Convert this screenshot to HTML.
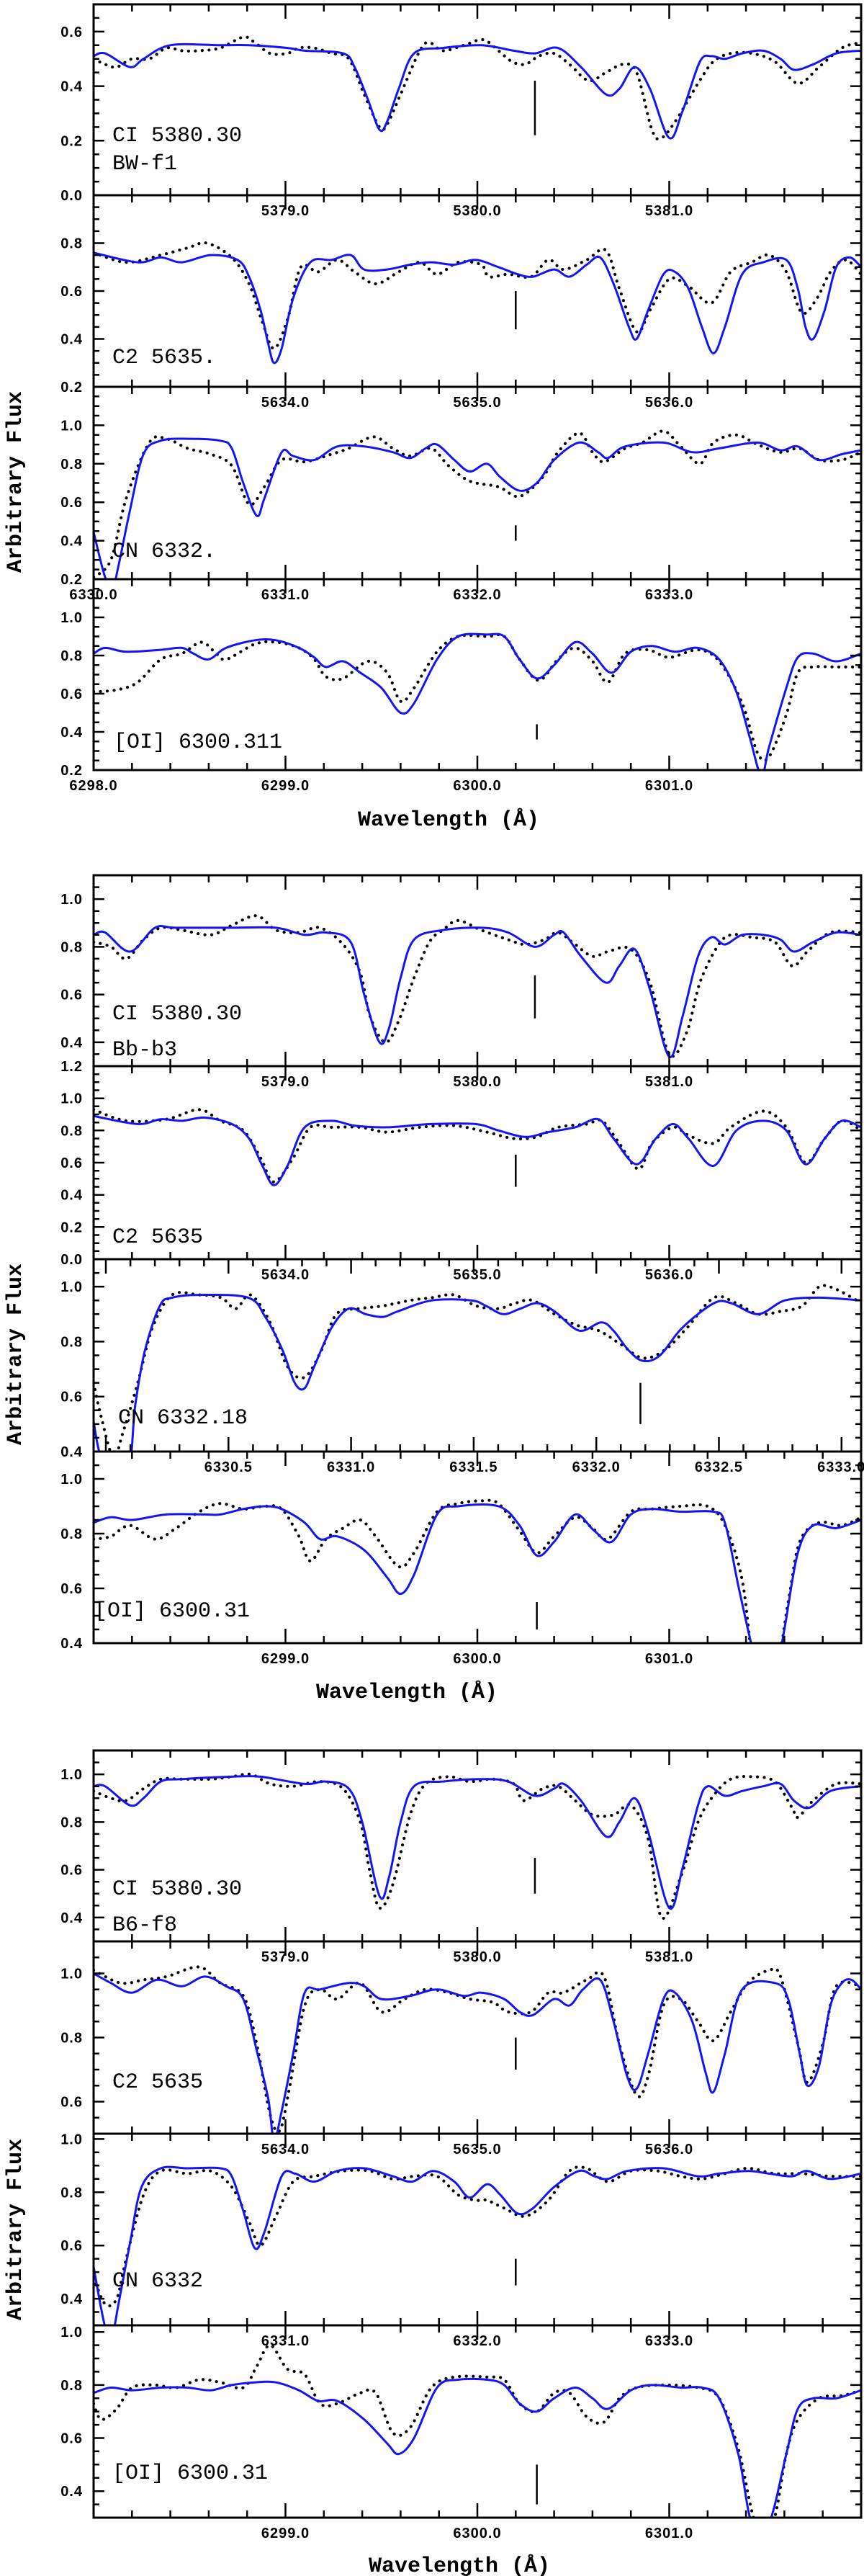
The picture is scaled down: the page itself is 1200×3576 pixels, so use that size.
<!DOCTYPE html>
<html><head><meta charset="utf-8">
<style>
html,body{margin:0;padding:0;background:#fff;}
svg{display:block;}
.tl{font-family:"Liberation Sans",sans-serif;font-weight:bold;font-size:20px;letter-spacing:1px;fill:#000;}
.pl{font-family:"Liberation Mono",monospace;font-size:30px;fill:#000;}
.ax{font-family:"Liberation Mono",monospace;font-weight:bold;font-size:30px;fill:#000;}
</style></head>
<body>
<svg id="fig" width="1200" height="3576" viewBox="0 0 1200 3576" xmlns="http://www.w3.org/2000/svg">
<text class="ax" x="623" y="1146" text-anchor="middle">Wavelength (Å)</text>
<text class="ax" x="565" y="2357" text-anchor="middle">Wavelength (Å)</text>
<text class="ax" x="638" y="3570" text-anchor="middle">Wavelength (Å)</text>
<text class="ax" transform="translate(29,669) rotate(-90)" text-anchor="middle">Arbitrary Flux</text>
<text class="ax" transform="translate(29,1880) rotate(-90)" text-anchor="middle">Arbitrary Flux</text>
<text class="ax" transform="translate(29,3095) rotate(-90)" text-anchor="middle">Arbitrary Flux</text>
</svg>
<script>
// ---- data: wavelength offsets (Å from panel base) and flux ----
const g1p1ModelDWl=[0,.06,.19,.26,.40,.66,.81,1.01,1.10,1.30,1.36,1.43,1.49,1.53,1.59,1.67,1.82,2.02,2.19,2.30,2.42,2.54,2.67,2.74,2.82,2.90,3.00,3.07,3.16,3.22,3.29,3.38,3.49,3.58,3.65,3.75,3.87,4.00];
const g1p1ModelFlux=[.51,.52,.47,.50,.55,.55,.55,.54,.53,.52,.47,.35,.24,.27,.39,.52,.54,.55,.53,.52,.54,.47,.37,.39,.47,.39,.21,.31,.49,.51,.50,.52,.53,.50,.46,.48,.52,.53];
const g1p1ObsDWl=[0,.06,.12,.20,.29,.38,.46,.55,.66,.78,.84,.92,1.01,1.07,1.15,1.24,1.33,1.41,1.49,1.53,1.60,1.70,1.75,1.82,1.93,2.03,2.11,2.18,2.25,2.32,2.40,2.48,2.58,2.67,2.76,2.83,2.91,2.96,3.04,3.15,3.23,3.32,3.43,3.55,3.67,3.78,3.90,4.00];
const g1p1ObsFlux=[.50,.48,.47,.50,.50,.54,.53,.53,.54,.58,.56,.52,.52,.54,.54,.52,.50,.37,.25,.26,.37,.53,.56,.53,.55,.57,.53,.49,.48,.51,.52,.48,.42,.45,.48,.45,.24,.21,.28,.41,.49,.52,.52,.49,.41,.47,.54,.56];

const g1p2ModelDWl=[0,.23,.35,.46,.61,.75,.81,.87,.91,.94,.98,1.04,1.13,1.24,1.34,1.41,1.53,1.65,1.76,1.88,1.99,2.11,2.21,2.29,2.40,2.48,2.57,2.64,2.71,2.79,2.83,2.89,2.97,3.03,3.10,3.17,3.23,3.29,3.38,3.49,3.61,3.67,3.71,3.75,3.81,3.87,3.94,4.00];
const g1p2ModelFlux=[.76,.72,.74,.72,.75,.73,.66,.52,.38,.30,.36,.57,.72,.73,.75,.69,.69,.71,.72,.71,.73,.70,.67,.66,.69,.66,.71,.74,.63,.45,.40,.52,.67,.68,.61,.45,.34,.45,.67,.72,.73,.61,.45,.40,.52,.70,.74,.70];
const g1p2ObsDWl=[0,.17,.35,.49,.59,.72,.81,.88,.94,1.01,1.08,1.17,1.27,1.36,1.47,1.59,1.70,1.79,1.90,2.02,2.06,2.16,2.28,2.37,2.45,2.57,2.67,2.74,2.83,2.90,3.00,3.10,3.22,3.32,3.43,3.52,3.61,3.69,3.77,3.84,3.92,4.00];
const g1p2ObsFlux=[.76,.72,.75,.78,.80,.74,.63,.47,.36,.48,.70,.68,.73,.68,.63,.68,.72,.67,.72,.71,.66,.67,.66,.73,.69,.73,.77,.61,.43,.52,.65,.62,.55,.68,.72,.75,.68,.51,.57,.68,.73,.67];

const g1p3ModelDWl=[0,.06,.10,.13,.19,.26,.35,.49,.66,.72,.78,.85,.89,.98,1.04,1.15,1.27,1.41,1.56,1.65,1.73,1.79,1.88,1.96,2.05,2.12,2.22,2.31,2.40,2.53,2.63,2.68,2.77,2.97,3.12,3.26,3.46,3.58,3.67,3.78,3.90,4.00];
const g1p3ModelFlux=[.445,.21,.16,.27,.56,.85,.92,.93,.92,.88,.70,.53,.62,.86,.84,.82,.89,.89,.86,.83,.88,.90,.82,.76,.80,.73,.66,.70,.82,.91,.86,.83,.89,.91,.86,.88,.91,.87,.89,.82,.85,.87];
const g1p3ObsDWl=[0,.09,.17,.29,.38,.49,.61,.72,.81,.89,.98,1.10,1.24,1.33,1.46,1.56,1.65,1.76,1.85,1.96,2.11,2.22,2.34,2.42,2.53,2.60,2.66,2.77,2.86,2.97,3.06,3.16,3.23,3.35,3.46,3.58,3.68,3.78,3.90,4.00];
const g1p3ObsFlux=[.21,.30,.62,.91,.93,.88,.85,.79,.59,.68,.82,.81,.85,.88,.94,.88,.84,.88,.79,.71,.68,.63,.73,.86,.96,.86,.81,.88,.91,.97,.89,.80,.91,.95,.90,.86,.88,.82,.82,.86];

const g1p4ModelDWl=[0,.06,.17,.35,.46,.52,.60,.69,.84,.95,1.07,1.15,1.21,1.30,1.39,1.50,1.60,1.67,1.79,1.90,2.05,2.14,2.22,2.31,2.40,2.51,2.60,2.70,2.80,2.91,3.03,3.15,3.26,3.35,3.42,3.48,3.52,3.61,3.67,3.75,3.87,4.00];
const g1p4ModelFlux=[.81,.84,.82,.83,.84,.81,.78,.84,.88,.88,.84,.79,.74,.77,.71,.63,.50,.55,.78,.90,.91,.90,.78,.68,.75,.87,.81,.71,.82,.85,.82,.84,.78,.61,.37,.17,.32,.63,.79,.81,.77,.81];
const g1p4ObsDWl=[0,.12,.23,.35,.46,.56,.63,.69,.84,.95,1.07,1.15,1.21,1.30,1.43,1.53,1.60,1.67,1.79,1.90,2.05,2.14,2.22,2.32,2.42,2.51,2.60,2.68,2.77,2.89,3.00,3.15,3.26,3.38,3.46,3.52,3.61,3.67,3.75,3.87,4.00];
const g1p4ObsFlux=[.61,.62,.66,.78,.81,.87,.82,.78,.86,.87,.84,.78,.69,.68,.77,.71,.56,.63,.82,.90,.90,.90,.78,.67,.78,.84,.77,.66,.81,.83,.79,.83,.77,.55,.29,.27,.49,.71,.74,.74,.74];

const g2p1ModelDWl=[0,.06,.19,.32,.43,.72,.95,1.10,1.21,1.34,1.41,1.49,1.54,1.60,1.67,1.82,2.02,2.16,2.30,2.40,2.45,2.54,2.67,2.74,2.82,2.90,3.00,3.07,3.15,3.22,3.29,3.38,3.49,3.58,3.65,3.75,3.87,4.00];
const g2p1ModelFlux=[.85,.86,.78,.88,.88,.88,.88,.85,.86,.82,.60,.40,.46,.67,.83,.87,.88,.86,.80,.85,.86,.76,.65,.72,.79,.62,.34,.51,.76,.84,.81,.85,.85,.83,.78,.82,.86,.85];
const g2p1ObsDWl=[0,.09,.17,.26,.35,.46,.61,.72,.85,.95,1.07,1.18,1.30,1.39,1.44,1.52,1.59,1.67,1.75,1.82,1.90,2.02,2.16,2.25,2.35,2.42,2.51,2.60,2.68,2.80,2.90,3.00,3.09,3.16,3.25,3.32,3.43,3.55,3.64,3.72,3.84,4.00];
const g2p1ObsFlux=[.82,.80,.75,.83,.88,.87,.85,.89,.93,.87,.86,.88,.81,.69,.51,.40,.49,.67,.82,.87,.91,.87,.83,.81,.83,.86,.81,.76,.78,.79,.65,.35,.44,.65,.80,.85,.84,.82,.72,.78,.86,.86];

const g2p2ModelDWl=[0,.23,.35,.46,.58,.72,.81,.88,.94,1.01,1.10,1.24,1.36,1.53,1.76,1.99,2.11,2.25,2.37,2.51,2.63,2.71,2.83,2.93,3.02,3.10,3.23,3.35,3.49,3.61,3.71,3.81,3.90,4.00];
const g2p2ModelFlux=[.89,.84,.87,.86,.88,.84,.75,.58,.46,.58,.82,.86,.83,.82,.84,.84,.80,.76,.79,.82,.87,.75,.59,.75,.84,.75,.58,.80,.86,.80,.59,.75,.86,.82];
const g2p2ObsDWl=[0,.17,.38,.55,.66,.78,.87,.94,1.04,1.13,1.24,1.39,1.53,1.70,1.88,2.05,2.19,2.31,2.42,2.57,2.65,2.74,2.84,2.91,3.02,3.10,3.23,3.32,3.49,3.61,3.71,3.81,3.90,4.00];
const g2p2ObsFlux=[.93,.86,.87,.93,.86,.80,.63,.48,.63,.82,.82,.82,.79,.82,.83,.79,.75,.76,.82,.84,.86,.72,.56,.72,.82,.77,.72,.82,.92,.82,.60,.75,.86,.80];

const g2p3ModelDWl=[0,.02,.05,.14,.17,.21,.27,.32,.43,.63,.70,.77,.82,.86,.90,.97,1.04,1.11,1.18,1.24,1.38,1.54,1.60,1.67,1.74,1.81,1.88,1.98,2.07,2.12,2.18,2.24,2.31,2.40,2.53,2.60,2.71,2.82,2.96,3.13];
const g2p3ModelFlux=[.51,.41,.33,.33,.57,.77,.93,.96,.97,.96,.89,.77,.65,.63,.71,.85,.92,.90,.89,.91,.95,.95,.93,.90,.92,.94,.91,.84,.87,.84,.77,.73,.75,.85,.94,.94,.90,.95,.96,.95];
const g2p3ObsDWl=[0,.03,.08,.12,.18,.24,.32,.43,.52,.58,.64,.72,.79,.86,.93,.99,1.08,1.18,1.29,1.38,1.47,1.56,1.65,1.72,1.79,1.88,1.97,2.06,2.15,2.24,2.33,2.42,2.53,2.62,2.71,2.80,2.89,2.96,3.03,3.13];
const g2p3ObsFlux=[.65,.53,.38,.47,.65,.85,.97,.97,.96,.92,.97,.87,.71,.67,.77,.90,.92,.93,.95,.96,.97,.93,.92,.94,.95,.90,.86,.84,.79,.74,.77,.85,.96,.94,.90,.91,.93,1.00,.99,.94];

const g2p4ModelDWl=[0,.09,.20,.38,.58,.66,.78,.89,.98,1.10,1.18,1.27,1.41,1.53,1.60,1.67,1.79,1.90,2.11,2.22,2.31,2.40,2.51,2.61,2.70,2.80,2.91,3.06,3.23,3.29,3.36,3.42,3.47,3.55,3.60,3.67,3.75,3.87,4.00];
const g2p4ModelFlux=[.84,.86,.85,.87,.87,.87,.89,.90,.89,.84,.78,.79,.74,.64,.58,.65,.87,.90,.90,.83,.72,.77,.87,.81,.77,.87,.89,.88,.88,.84,.61,.42,.28,.28,.45,.73,.83,.82,.85];
const g2p4ObsDWl=[0,.09,.19,.32,.43,.55,.66,.78,.89,.98,1.07,1.13,1.21,1.30,1.39,1.47,1.59,1.67,1.79,1.90,2.02,2.11,2.22,2.31,2.40,2.51,2.60,2.68,2.80,2.91,3.06,3.20,3.29,3.38,3.45,3.55,3.62,3.68,3.78,3.90,4.00];
const g2p4ObsFlux=[.78,.79,.83,.78,.82,.88,.91,.89,.90,.89,.79,.70,.78,.82,.85,.79,.68,.73,.88,.91,.92,.91,.81,.73,.79,.86,.82,.78,.88,.89,.90,.90,.83,.63,.28,.28,.55,.77,.84,.83,.86];

const g3p1ModelDWl=[0,.06,.19,.26,.35,.46,.72,.87,1.10,1.21,1.33,1.40,1.49,1.54,1.60,1.67,1.82,2.02,2.16,2.30,2.40,2.45,2.54,2.67,2.74,2.82,2.89,3.00,3.07,3.15,3.20,3.29,3.38,3.49,3.58,3.65,3.73,3.84,4.00];
const g3p1ModelFlux=[.95,.95,.87,.90,.97,.98,.99,.99,.96,.97,.94,.80,.49,.57,.80,.95,.97,.98,.97,.91,.94,.96,.89,.74,.80,.90,.76,.44,.61,.87,.95,.91,.93,.95,.96,.89,.86,.93,.95];
const g3p1ObsDWl=[0,.09,.17,.26,.35,.46,.61,.72,.82,.92,1.04,1.18,1.30,1.39,1.44,1.49,1.56,1.65,1.73,1.85,1.96,2.08,2.19,2.24,2.34,2.42,2.51,2.60,2.71,2.80,2.89,2.96,3.06,3.15,3.23,3.32,3.43,3.55,3.64,3.67,3.75,3.87,4.00];
const g3p1ObsFlux=[.93,.90,.89,.94,.98,.98,.98,.99,1.00,.96,.95,.97,.94,.80,.59,.44,.54,.83,.96,.99,.97,.98,.96,.89,.94,.95,.89,.83,.83,.87,.73,.40,.57,.80,.91,.98,.99,.97,.86,.82,.89,.96,.96];

const g3p2ModelDWl=[0,.09,.20,.33,.46,.58,.69,.78,.85,.91,.94,.98,1.04,1.10,1.18,1.33,1.41,1.50,1.65,1.79,1.93,2.02,2.14,2.22,2.29,2.40,2.48,2.55,2.64,2.71,2.78,2.83,2.89,2.97,3.03,3.12,3.19,3.23,3.29,3.38,3.55,3.62,3.68,3.72,3.78,3.84,3.90,3.95,4.00];
const g3p2ModelFlux=[1.00,.97,.94,.98,.96,.99,.96,.92,.76,.61,.48,.57,.75,.94,.95,.97,.96,.92,.93,.95,.93,.94,.92,.88,.87,.92,.90,.95,.98,.85,.68,.64,.75,.92,.94,.85,.69,.63,.75,.95,.97,.92,.75,.65,.71,.90,.97,.98,.95];
const g3p2ObsDWl=[0,.14,.26,.38,.55,.66,.78,.85,.92,.97,1.02,1.10,1.18,1.27,1.39,1.50,1.62,1.73,1.85,1.96,2.08,2.16,2.28,2.37,2.45,2.57,2.66,2.74,2.83,2.89,2.97,3.06,3.15,3.23,3.32,3.41,3.52,3.58,3.67,3.72,3.80,3.87,4.00];
const g3p2ObsFlux=[1.01,.97,.98,.99,1.02,.97,.93,.78,.56,.51,.64,.90,.95,.92,.97,.88,.92,.95,.94,.92,.91,.88,.88,.94,.94,.98,.99,.78,.62,.68,.90,.92,.85,.79,.88,.97,1.01,.99,.78,.66,.78,.96,.96];

const g3p3ModelDWl=[0,.04,.07,.10,.13,.19,.25,.35,.49,.66,.72,.78,.84,.89,.98,1.05,1.15,1.27,1.41,1.56,1.66,1.77,1.88,1.96,2.05,2.12,2.21,2.29,2.40,2.53,2.61,2.68,2.78,2.97,3.15,3.26,3.41,3.52,3.64,3.72,3.84,4.00];
const g3p3ModelFlux=[.52,.36,.27,.27,.38,.61,.82,.89,.89,.89,.86,.73,.59,.65,.86,.87,.84,.88,.89,.86,.84,.88,.84,.78,.83,.79,.72,.74,.82,.88,.86,.85,.88,.89,.86,.87,.88,.87,.86,.88,.85,.87];
const g3p3ObsDWl=[0,.06,.12,.17,.26,.35,.49,.61,.72,.81,.87,.95,1.04,1.15,1.30,1.44,1.56,1.67,1.79,1.90,1.99,2.05,2.14,2.25,2.37,2.48,2.57,2.68,2.80,2.94,3.06,3.17,3.29,3.41,3.55,3.69,3.84,4.00];
const g3p3ObsFlux=[.48,.38,.40,.55,.79,.88,.87,.88,.82,.69,.60,.71,.84,.86,.88,.88,.85,.86,.86,.79,.77,.77,.74,.71,.77,.88,.89,.84,.88,.88,.86,.85,.87,.89,.87,.87,.86,.86];

const g3p4ModelDWl=[0,.09,.20,.35,.49,.61,.72,.84,.95,1.07,1.17,1.27,1.41,1.53,1.59,1.67,1.79,1.90,2.05,2.14,2.22,2.31,2.40,2.51,2.60,2.68,2.80,2.91,3.06,3.17,3.26,3.36,3.43,3.52,3.61,3.67,3.75,3.87,4.00];
const g3p4ModelFlux=[.77,.79,.78,.79,.79,.78,.80,.81,.81,.78,.74,.74,.67,.58,.54,.60,.79,.82,.82,.80,.73,.70,.75,.79,.75,.71,.78,.80,.79,.79,.75,.54,.28,.28,.54,.71,.75,.75,.78];
const g3p4ObsDWl=[0,.04,.12,.20,.32,.43,.55,.66,.78,.85,.92,1.01,1.10,1.18,1.27,1.39,1.47,1.56,1.65,1.76,1.88,2.05,2.14,2.22,2.31,2.40,2.48,2.57,2.66,2.74,2.83,2.97,3.15,3.26,3.36,3.45,3.54,3.61,3.67,3.78,3.90,4.00];
const g3p4ObsFlux=[.73,.67,.71,.79,.80,.79,.82,.81,.79,.87,.95,.86,.84,.73,.73,.77,.77,.62,.64,.79,.83,.83,.82,.73,.70,.77,.77,.68,.66,.75,.79,.80,.79,.75,.56,.28,.28,.54,.67,.75,.76,.78];

const panelLabels=[["CI 5380.30","BW-f1"],["C2 5635."],["CN 6332."],["[OI] 6300.311"],
 ["CI 5380.30","Bb-b3"],["C2 5635"],["CN 6332.18"],["[OI] 6300.31"],
 ["CI 5380.30","B6-f8"],["C2 5635"],["CN 6332"],["[OI] 6300.31"]];
const baseWl=[5378.0,5633.0,6330.0,6298.0, 5378.0,5633.0,6329.95,6298.0, 5378.0,5633.0,6330.0,6298.0];
const wlSpan=[4,4,4,4, 4,4,3.13,4, 4,4,4,4];
const fluxMin=[0,0.2,0.2,0.2, 0.3,0,0.4,0.4, 0.3,0.5,0.3,0.3];
const fluxMax=[0.7,1.0,1.2,1.2, 1.1,1.2,1.1,1.1, 1.1,1.1,1.02,1.025];
const yTickLabels=[[0,0.2,0.4,0.6],[0.2,0.4,0.6,0.8],[0.2,0.4,0.6,0.8,1.0],[0.2,0.4,0.6,0.8,1.0],
 [0.4,0.6,0.8,1.0],[0,0.2,0.4,0.6,0.8,1.0,1.2],[0.4,0.6,0.8,1.0],[0.4,0.6,0.8,1.0],
 [0.4,0.6,0.8,1.0],[0.6,0.8,1.0],[0.4,0.6,0.8,1.0],[0.4,0.6,0.8,1.0]];
const xTickLabels=[[5379,5380,5381],[5634,5635,5636],[6330,6331,6332,6333],[6298,6299,6300,6301],
 [5379,5380,5381],[5634,5635,5636],[6330.5,6331,6331.5,6332,6332.5,6333],[6299,6300,6301],
 [5379,5380,5381],[5634,5635,5636],[6331,6332,6333],[6299,6300,6301]];
const markerWl=[5380.30,5635.2,6332.2,6300.31, 5380.30,5635.2,6332.18,6300.31, 5380.30,5635.2,6332.2,6300.31];
const markerTop=[0.42,0.60,0.48,0.44, 0.68,0.65,0.65,0.55, 0.65,0.80,0.55,0.50];
const markerBot=[0.22,0.44,0.40,0.36, 0.50,0.45,0.50,0.45, 0.50,0.70,0.45,0.35];

// layout (pixels)
const groupEdges=[[6,271,537,804,1069],[1215,1480,1748,2015,2281],[2430,2695,2962,3228,3495]];
const labelOffsets=[[75,36],[33],[31],[31],[65,15],[23],[39],[37],[65,15],[64],[54],[54]];
const labelX=[156,156,156,158, 156,156,164,131, 156,156,156,156];
const X0=130, X1=1196;
const NS="http://www.w3.org/2000/svg";
const svg=document.getElementById('fig');

const modelSets=[[g1p1ModelDWl,g1p1ModelFlux],[g1p2ModelDWl,g1p2ModelFlux],[g1p3ModelDWl,g1p3ModelFlux],[g1p4ModelDWl,g1p4ModelFlux],
 [g2p1ModelDWl,g2p1ModelFlux],[g2p2ModelDWl,g2p2ModelFlux],[g2p3ModelDWl,g2p3ModelFlux],[g2p4ModelDWl,g2p4ModelFlux],
 [g3p1ModelDWl,g3p1ModelFlux],[g3p2ModelDWl,g3p2ModelFlux],[g3p3ModelDWl,g3p3ModelFlux],[g3p4ModelDWl,g3p4ModelFlux]];
const obsSets=[[g1p1ObsDWl,g1p1ObsFlux],[g1p2ObsDWl,g1p2ObsFlux],[g1p3ObsDWl,g1p3ObsFlux],[g1p4ObsDWl,g1p4ObsFlux],
 [g2p1ObsDWl,g2p1ObsFlux],[g2p2ObsDWl,g2p2ObsFlux],[g2p3ObsDWl,g2p3ObsFlux],[g2p4ObsDWl,g2p4ObsFlux],
 [g3p1ObsDWl,g3p1ObsFlux],[g3p2ObsDWl,g3p2ObsFlux],[g3p3ObsDWl,g3p3ObsFlux],[g3p4ObsDWl,g3p4ObsFlux]];

function mk(tag,attrs,parent){const e=document.createElementNS(NS,tag);for(const k in attrs)e.setAttribute(k,attrs[k]);(parent||svg).appendChild(e);return e;}
function smooth(pts){
  if(pts.length<2)return '';
  let d='M'+pts[0][0].toFixed(1)+','+pts[0][1].toFixed(1);
  for(let i=0;i<pts.length-1;i++){
    const p0=pts[Math.max(0,i-1)],p1=pts[i],p2=pts[i+1],p3=pts[Math.min(pts.length-1,i+2)];
    const c1x=p1[0]+(p2[0]-p0[0])/6,c1y=p1[1]+(p2[1]-p0[1])/6;
    const c2x=p2[0]-(p3[0]-p1[0])/6,c2y=p2[1]-(p3[1]-p1[1])/6;
    d+='C'+c1x.toFixed(1)+','+c1y.toFixed(1)+' '+c2x.toFixed(1)+','+c2y.toFixed(1)+' '+p2[0].toFixed(1)+','+p2[1].toFixed(1);
  }
  return d;
}

for(let p=0;p<12;p++){
  const g=Math.floor(p/4), k=p%4;
  const top=groupEdges[g][k], bot=groupEdges[g][k+1];
  const xmin=baseWl[p], xmax=baseWl[p]+wlSpan[p];
  const ymin=fluxMin[p], ymax=fluxMax[p];
  const sx=w=>X0+(w-xmin)/(xmax-xmin)*(X1-X0);
  const sy=f=>bot-(f-ymin)/(ymax-ymin)*(bot-top);
  const grp=mk('g',{});
  
  
  const cid='clip'+p;
  const cp=mk('clipPath',{id:cid},grp);
  mk('rect',{x:X0,y:top,width:X1-X0,height:bot-top},cp);
  // observed (dotted)
  const [od,of]=obsSets[p];
  const opts=[];for(let i=0;i<Math.min(od.length,of.length);i++)opts.push([sx(xmin+od[i]),sy(of[i])]);
  const op=mk('path',{d:smooth(opts),fill:'none',stroke:'#000','stroke-width':4.2,'stroke-linecap':'round','stroke-dasharray':'0.1 9.4','clip-path':'url(#'+cid+')'},grp);
  
  
  // model (blue)
  const [md,mf]=modelSets[p];
  const mpts=[];for(let i=0;i<Math.min(md.length,mf.length);i++)mpts.push([sx(xmin+md[i]),sy(mf[i])]);
  const mp=mk('path',{d:smooth(mpts),fill:'none',stroke:'#1414f5','stroke-width':3,'clip-path':'url(#'+cid+')'},grp);
  
  
  // marker
  const mx=sx(markerWl[p]);
  const mk1=mk('line',{x1:mx,x2:mx,y1:sy(markerTop[p]),y2:sy(markerBot[p]),stroke:'#000','stroke-width':2.5},grp);
  
  
  // frame
  const fr=mk('rect',{x:X0,y:top,width:X1-X0,height:bot-top,fill:'none',stroke:'#000','stroke-width':3},grp);
  
  
  // x ticks
  const xmaj=(p===6)?0.5:1.0, xmin_=(p===6)?0.1:0.2;
  let tp='';
  for(let w=Math.ceil(xmin/xmin_-1e-6)*xmin_; w<=xmax+1e-6; w+=xmin_){
    const isMaj=Math.abs(w/xmaj-Math.round(w/xmaj))<1e-4;
    const L=isMaj?20:10, x=sx(w);
    if(x<X0+1||x>X1-1)continue;
    tp+='M'+x.toFixed(1)+','+top+'v'+L+'M'+x.toFixed(1)+','+bot+'v'+(-L);
  }
  // y ticks
  for(let v=Math.ceil(ymin/0.05-1e-6)*0.05; v<=ymax+1e-6; v+=0.05){
    const isMaj=Math.abs(v/0.2-Math.round(v/0.2))<1e-4;
    const L=isMaj?15:8, y=sy(v);
    if(y<top+1||y>bot-1)continue;
    tp+='M'+X0+','+y.toFixed(1)+'h'+L+'M'+X1+','+y.toFixed(1)+'h'+(-L);
  }
  const tk=mk('path',{d:tp,stroke:'#000','stroke-width':2.5,fill:'none'},grp);
  
  
  // y tick labels
  yTickLabels[p].forEach(v=>{
    const t=mk('text',{x:115,y:sy(v)+7,'text-anchor':'end',class:'tl'},grp);
    
    
    t.textContent=v.toFixed(1);
  });
  // x tick labels
  xTickLabels[p].forEach(v=>{
    const t=mk('text',{x:sx(v),y:bot+28,'text-anchor':'middle',class:'tl'},grp);
    
    
    t.textContent=v.toFixed(1);
  });
  // panel labels
  panelLabels[p].forEach((s,i)=>{
    const t=mk('text',{x:labelX[p],y:bot-labelOffsets[p][i],class:'pl'},grp);
    
    
    t.textContent=s;
  });
}
</script>
</body></html>
